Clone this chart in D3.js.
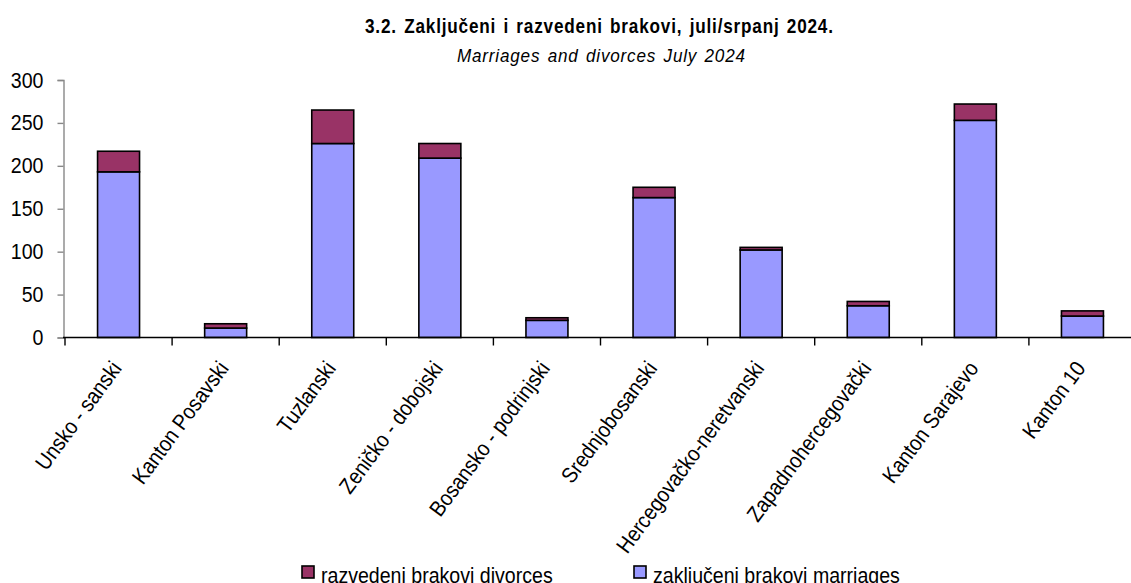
<!DOCTYPE html>
<html lang="en">
<head>
  <meta charset="UTF-8">
  <title>Zaključeni i razvedeni brakovi</title>
  <style>
  body { margin: 0; background: #fff; }
  svg { display: block; font-family: "Liberation Sans", Arial, sans-serif; }
  </style>
</head>
<body>
  <svg></svg>

  <script src="https://d3js.org/d3.v7.min.js"></script>
  <script>
  var cantons = ["Unsko - sanski", "Kanton Posavski", "Tuzlanski", "Zeničko - dobojski",
                 "Bosansko - podrinjski", "Srednjobosanski", "Hercegovačko-neretvanski",
                 "Zapadnohercegovački", "Kanton Sarajevo", "Kanton 10"];
  var marriages = [193, 11, 226, 209, 20, 163, 102, 37, 253, 25];
  var divorces  = [24, 5, 39, 17, 3, 12, 3, 5, 19, 6];
  var yTicks = [0, 50, 100, 150, 200, 250, 300];
  var seriesNames = ["razvedeni brakovi divorces", "zaključeni brakovi marriages"];

  var width = 1131;
  var height = 583;
  var colors = { marriages: "#9999ff", divorces: "#993366" };
  var narrow = 0.89; // the original uses a condensed face

  var svg = d3.select("svg")
      .attr("width", width)
      .attr("height", height);

  var xScale = d3.scaleBand()
      .domain(cantons)
      .range([65, 1136])
      .paddingInner(0.608)
      .paddingOuter(0.304);
  var yScale = d3.scaleLinear()
      .domain([0, 300])
      .range([337.5, 80]);

  // titles (condensed glyphs, a bit of extra word spacing)
  svg.append("text")
      .attr("transform", "translate(365,33) scale(0.88,1)")
      .attr("textLength", 468 / 0.88)
      .attr("lengthAdjust", "spacing")
      .style("font-size", "19.5px").style("font-weight", "bold")
      .style("word-spacing", "2px")
      .text("3.2. Zaključeni i razvedeni brakovi, juli/srpanj 2024.");
  svg.append("text")
      .attr("transform", "translate(457,62) scale(0.9,1)")
      .attr("textLength", 288 / 0.9)
      .attr("lengthAdjust", "spacing")
      .style("font-size", "19px").style("font-style", "italic")
      .style("word-spacing", "2px")
      .text("Marriages and divorces July 2024");

  // stacked data
  var rows = cantons.map((c, i) => ({ canton: c, marriages: marriages[i], divorces: divorces[i] }));
  var stack = d3.stack().keys(["marriages", "divorces"])(rows);

  svg.append("g").selectAll("g")
    .data(stack)
    .enter()
    .append("g")
      .attr("fill", d => colors[d.key])
    .selectAll("rect")
    .data(d => d)
    .enter()
    .append("rect")
      .attr("x", d => xScale(d.data.canton))
      .attr("width", xScale.bandwidth())
      .attr("y", d => yScale(d[1]))
      .attr("height", d => yScale(d[0]) - yScale(d[1]))
      .attr("stroke", "#000")
      .attr("stroke-width", 1.6);

  // y axis
  var yAxis = svg.append("g")
      .attr("transform", "translate(63.5,0)")
      .call(d3.axisLeft(yScale).tickValues(yTicks).tickSize(6).tickPadding(0));
  yAxis.selectAll("line, path").attr("stroke", "#888").attr("stroke-width", 1.4);
  yAxis.selectAll("text")
      .attr("x", 0)
      .attr("transform", "translate(-20,0) scale(" + narrow + ",1)")
      .attr("fill", "#000")
      .style("font-size", "22px")
      .style("font-family", "inherit");

  // x axis line + boundary ticks
  var step = xScale.step();
  var x0 = xScale.range()[0];
  svg.append("line")
      .attr("x1", 63).attr("x2", width)
      .attr("y1", yScale(0)).attr("y2", yScale(0))
      .attr("stroke", "#000").attr("stroke-width", 1.6);
  svg.append("g").selectAll("line")
    .data(d3.range(cantons.length))
    .enter()
    .append("line")
      .attr("x1", i => x0 + i * step)
      .attr("x2", i => x0 + i * step)
      .attr("y1", yScale(0))
      .attr("y2", yScale(0) + 8)
      .attr("stroke", "#000").attr("stroke-width", 1.4);

  svg.append("g").selectAll("text")
    .data(cantons)
    .enter()
    .append("text")
      .attr("transform", d => "translate(" + (xScale(d) + xScale.bandwidth() / 2 + 4) + "," + (yScale(0) + 31) + ") rotate(-53.5) scale(" + narrow + ",1)")
      .attr("text-anchor", "end")
      .style("font-size", "22px")
      .text(d => d);

  // legend
  var legendX = [302, 634];
  var legend = svg.append("g").selectAll("g")
    .data(seriesNames)
    .enter()
    .append("g")
      .attr("transform", (d, i) => "translate(" + legendX[i] + ",566)");
  legend.append("rect")
      .attr("width", 12).attr("height", 12)
      .attr("fill", (d, i) => i === 0 ? colors.divorces : colors.marriages)
      .attr("stroke", "#000").attr("stroke-width", 1.6);
  legend.append("text")
      .attr("transform", "translate(19,17) scale(" + narrow + ",1)")
      .style("font-size", "22px")
      .text(d => d);
  </script>
</body>
</html>
